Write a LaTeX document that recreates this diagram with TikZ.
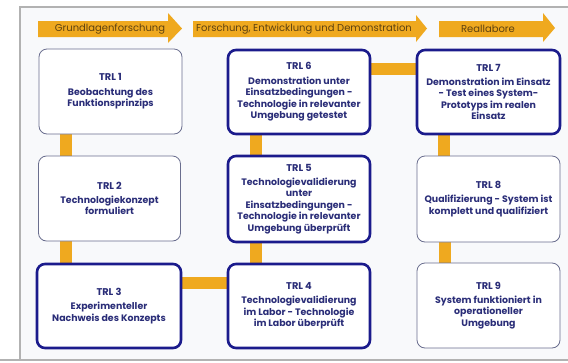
\documentclass[tikz,border=0pt]{standalone}
\usepackage{fontspec}
\setmainfont{Poppins}
\usetikzlibrary{backgrounds}
\definecolor{trlorange}{HTML}{EFA91F}
\definecolor{trlnavy}{HTML}{1B1B8C}
\definecolor{trltext}{HTML}{2A2D78}
\definecolor{trlthin}{HTML}{6A6E8E}
\definecolor{framefill}{HTML}{F8F9FB}
\definecolor{arrowtext}{HTML}{5E4210}
\tikzset{
  trlbox/.style={rounded corners=8pt, fill=white, align=center, text=trltext,
    font=\fontsize{9.4}{11.6}\selectfont\bfseries, inner sep=0pt},
  thinbox/.style={trlbox, draw=trlthin, line width=0.8pt},
  thickbox/.style={trlbox, draw=trlnavy, line width=2.6pt},
  conn/.style={trlorange, line width=12pt},
  phase/.style={fill=trlorange},
  phasetext/.style={text=arrowtext, font=\fontsize{10}{11}\selectfont, inner sep=0pt}
}
\newcommand{\trl}[2]{{\fontsize{9.8}{11}\selectfont TRL #1}\\[2.5pt]#2}
\begin{document}
\begin{tikzpicture}[x=1pt,y=-1pt]
\useasboundingbox (0,0) rectangle (568,362);
% boxes
\node[thinbox, minimum width=143pt, minimum height=85pt] (t1) at (110.5,91.5)
  {\trl{1}{Beobachtung des\\Funktionsprinzips}};
\node[thinbox, minimum width=142pt, minimum height=85pt] (t2) at (109.5,198.5)
  {\trl{2}{Technologiekonzept\\formuliert}};
\node[thickbox, minimum width=144pt, minimum height=84pt] (t3) at (109,306)
  {\trl{3}{Experimenteller\\Nachweis des Konzepts}};
\node[thickbox, minimum width=142pt, minimum height=84pt] (t4) at (299,306)
  {\trl{4}{Technologievalidierung\\im Labor - Technologie\\im Labor überprüft}};
\node[thickbox, minimum width=142pt, minimum height=86pt] (t5) at (299,199)
  {\trl{5}{Technologievalidierung\\unter\\Einsatzbedingungen -\\Technologie in relevanter\\Umgebung überprüft}};
\node[thickbox, minimum width=142pt, minimum height=84pt] (t6) at (299,92)
  {\trl{6}{Demonstration unter\\Einsatzbedingungen -\\Technologie in relevanter\\Umgebung getestet}};
\node[thickbox, minimum width=143pt, minimum height=84pt] (t7) at (488.5,92)
  {\trl{7}{Demonstration im Einsatz\\- Test eines System-\\Prototyps im realen\\Einsatz}};
\node[thinbox, minimum width=143pt, minimum height=86pt] (t8) at (488.5,199)
  {\trl{8}{Qualifizierung - System ist\\komplett und qualifiziert}};
\node[thinbox, minimum width=143pt, minimum height=85pt] (t9) at (488.5,305.5)
  {\trl{9}{System funktioniert in\\operationeller\\Umgebung}};
\begin{scope}[on background layer]
\fill[white] (0,0) rectangle (568,362);
\draw[fill=framefill, draw=black!30, line width=1.2pt] (20,7) rectangle (572,360);
\draw[black!30, line width=1.2pt] (0,360) -- (20,360);
% phase arrows
\fill[phase] (38,21) -- (168,21) -- (168,13) -- (182,28.5) -- (168,43) -- (168,37) -- (38,37) -- cycle;
\node[phasetext] (p1) at (110,29) {Grundlagenforschung};
\fill[phase] (193,21) -- (416,21) -- (416,15) -- (427,28.5) -- (416,42) -- (416,37) -- (193,37) -- cycle;
\node[phasetext] (p2) at (304,29) {Forschung, Entwicklung und Demonstration};
\fill[phase] (439,21) -- (543,21) -- (543,13) -- (555,28) -- (543,42) -- (543,37) -- (439,37) -- cycle;
\node[phasetext] (p3) at (488,29) {Reallabore};
% connectors
\draw[conn] ([xshift=27pt]t1.south west) -- ([xshift=27pt]t1.south west |- t2.north);
\draw[conn] ([xshift=28pt]t2.south west) -- ([xshift=28pt]t2.south west |- t3.north);
\draw[conn] ([yshift=23pt]t3.east) -- ([yshift=23pt]t3.east -| t4.west);
\draw[conn] ([xshift=29pt]t4.north west) -- ([xshift=29pt]t4.north west |- t5.south);
\draw[conn] ([xshift=29pt]t5.north west) -- ([xshift=29pt]t5.north west |- t6.south);
\draw[conn] ([yshift=23pt]t6.east) -- ([yshift=23pt]t6.east -| t7.west);
\draw[conn] ([xshift=28pt]t7.south west) -- ([xshift=28pt]t7.south west |- t8.north);
\draw[conn] ([xshift=28pt]t8.south west) -- ([xshift=28pt]t8.south west |- t9.north);
\end{scope}
\end{tikzpicture}
\end{document}
